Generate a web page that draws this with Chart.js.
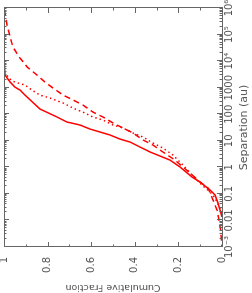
<!DOCTYPE html>
<html><head><meta charset="utf-8">
<script src="https://cdn.jsdelivr.net/npm/chart.js@4/dist/chart.umd.min.js"></script>
<style>
html,body{margin:0;padding:0;background:#fff;overflow:hidden;width:252px;height:293px;}
#wrap{position:absolute;left:0;top:0;width:293px;height:252px;transform-origin:0 0;transform:translateY(293px) rotate(-90deg);}
</style></head>
<body><div id="wrap"><canvas id="c" width="293" height="252"></canvas></div>
<script>
// Axis ticks
const sepTicks = [1e-3, 1e-2, 0.1, 1, 10, 100, 1000, 1e4, 1e5, 1e6];
const sepTickLabels = ['10\u207B\u00B3','0.01','0.1','1','10','100','1000','10\u2074','10\u2075','10\u2076'];
const fracTicks = [0, 0.2, 0.4, 0.6, 0.8, 1];
const fracTickLabels = ['0','0.2','0.4','0.6','0.8','1'];

// Solid curve
const solidSep = [13200,2990,1620,1050,813,525,157,78.5,50.8,39.2,27.7,21.4,16.5,11.6,8.97,5.82,3.78,2.67,1.89,1.03,0.433,0.28,0.14,0.091,0.045,0.025,0.0135];
const solidFrac = [1.0,0.995,0.972,0.950,0.927,0.904,0.835,0.757,0.711,0.651,0.606,0.560,0.514,0.468,0.422,0.376,0.330,0.284,0.239,0.193,0.138,0.101,0.055,0.032,0.018,0.009,0];
// Dotted curve
const dotSep = [3890,1940,1620,1260,813,525,407,263,170,120,78.5,60.3,39.2,30.2,19.6,13.8,8.24,5.33,2.91,1.22,0.471,0.198,0.118,0.07,0.035,0.0174];
const dotFrac = [1,0.968,0.95,0.904,0.872,0.835,0.789,0.729,0.683,0.638,0.592,0.546,0.5,0.454,0.408,0.362,0.317,0.271,0.225,0.179,0.133,0.087,0.055,0.032,0.014,0];
// Dashed curve
const dashSep = [832000,646000,229000,81300,33900,13200,6030,2990,1620,968,525,343,222,121,78.5,46.7,30.2,19.6,10.7,6.92,3.78,1.89,0.611,0.28,0.166,0.0589,0.0247,0.0105,0.00367,0.00141,0.001];
const dashFrac = [1,0.995,0.986,0.972,0.959,0.927,0.894,0.849,0.812,0.775,0.729,0.683,0.638,0.592,0.546,0.5,0.454,0.408,0.362,0.317,0.271,0.216,0.147,0.101,0.064,0.041,0.023,0.014,0.005,0.002,0];

const pts = (xs, ys) => xs.map((x, i) => ({x: x, y: ys[i]}));
const RED = '#ff0000';
const AXIS = '#666666';
const TEXT = '#555555';
const FONT = "'DejaVu Sans', sans-serif";

const boxTicks = {
  id: 'boxTicks',
  afterDatasetsDraw(chart) {
    const ctx = chart.ctx, a = chart.chartArea;
    const xs = chart.scales.x, ys = chart.scales.y;
    ctx.save();
    ctx.strokeStyle = AXIS;
    ctx.lineWidth = 1;
    ctx.strokeRect(Math.round(a.left) + 0.5, Math.round(a.top) + 0.5, Math.round(a.right - a.left), Math.round(a.bottom - a.top));
    ctx.beginPath();
    for (let d = -3; d <= 6; d++) {
      for (let m = 1; m <= 9; m++) {
        const v = m * Math.pow(10, d);
        if (v > 1e6 * 1.0001) break;
        const px = Math.round(xs.getPixelForValue(v)) + 0.5;
        const len = m === 1 ? 5 : 2.5;
        ctx.moveTo(px, a.bottom); ctx.lineTo(px, a.bottom - len);
        ctx.moveTo(px, a.top); ctx.lineTo(px, a.top + len);
      }
    }
    for (let k = 0; k <= 10; k++) {
      const v = k / 10;
      const py = Math.round(ys.getPixelForValue(v)) + 0.5;
      const len = k % 2 === 0 ? 5 : 2.5;
      ctx.moveTo(a.left, py); ctx.lineTo(a.left + len, py);
      ctx.moveTo(a.right, py); ctx.lineTo(a.right - len, py);
    }
    ctx.stroke();
    ctx.restore();
  }
};

new Chart(document.getElementById('c'), {
  type: 'scatter',
  data: {
    datasets: [
      {data: pts(solidSep, solidFrac), showLine: true, borderColor: RED, borderWidth: 1.5, pointRadius: 0, tension: 0},
      {data: pts(dotSep, dotFrac), showLine: true, borderColor: RED, borderWidth: 1.5, borderDash: [1.5, 3], pointRadius: 0, tension: 0},
      {data: pts(dashSep, dashFrac), showLine: true, borderColor: RED, borderWidth: 1.5, borderDash: [6, 4], pointRadius: 0, tension: 0}
    ]
  },
  options: {
    responsive: false,
    animation: false,
    devicePixelRatio: 1,
    layout: {padding: {top: 4, right: 8, left: 0, bottom: 0}},
    plugins: {legend: {display: false}, tooltip: {enabled: false}},
    scales: {
      x: {
        type: 'logarithmic', min: 1e-3, max: 1e6,
        grid: {display: false, drawTicks: false}, border: {display: false},
        afterBuildTicks: s => { s.ticks = sepTicks.map(v => ({value: v})); },
        afterFit: s => { s.height = 30; s.paddingLeft = 0; s.paddingRight = 0; },
        ticks: {autoSkip: false, maxRotation: 0, minRotation: 0, padding: 1, color: TEXT, font: {family: FONT, size: 10},
          callback: (v) => { const i = sepTicks.findIndex(t => Math.abs(t - v) / t < 1e-6); return i >= 0 ? sepTickLabels[i] : ''; }},
        title: {display: true, text: 'Separation (au)', color: TEXT, font: {family: FONT, size: 11}, padding: {top: 0, bottom: 1}}
      },
      y: {
        type: 'linear', min: 0, max: 1,
        grid: {display: false, drawTicks: false}, border: {display: false},
        afterBuildTicks: s => { s.ticks = fracTicks.map(v => ({value: v})); },
        afterFit: s => { s.width = 46; s.paddingTop = 0; s.paddingBottom = 0; },
        ticks: {padding: 10, color: TEXT, font: {family: FONT, size: 10},
          callback: (v) => { const i = fracTicks.findIndex(t => Math.abs(t - v) < 1e-6); return i >= 0 ? fracTickLabels[i] : ''; }},
        title: {display: true, text: 'Cumulative Fraction', color: TEXT, font: {family: FONT, size: 9.5}, padding: {top: 0, bottom: 0}}
      }
    }
  },
  plugins: [boxTicks]
});
</script></body></html>
